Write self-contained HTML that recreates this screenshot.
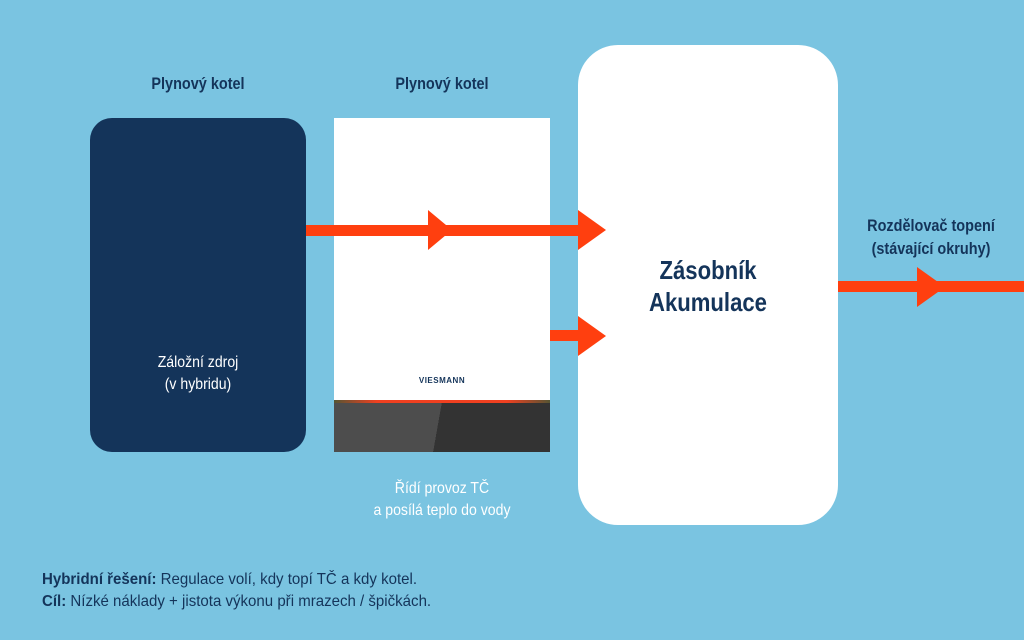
<!DOCTYPE html>
<html><head><meta charset="utf-8"><style>
body{margin:0;width:1024px;height:640px;background:#7ac4e1;position:relative;overflow:hidden;font-family:"Liberation Sans",sans-serif;color:#14345a}
.a{position:absolute}
.t{position:absolute;white-space:nowrap;transform-origin:center top}
</style></head><body>
<div class="t" style="left:98px;width:200px;text-align:center;top:74px;font-weight:bold;font-size:17px;transform:scaleX(0.85)">Plynový kotel</div>
<div class="t" style="left:342px;width:200px;text-align:center;top:74px;font-weight:bold;font-size:17px;transform:scaleX(0.85)">Plynový kotel</div>
<div class="a" style="left:90px;top:118px;width:216px;height:334px;background:#14345a;border-radius:22px"></div>
<div class="t" style="left:98px;width:200px;text-align:center;top:352px;font-size:16px;line-height:22px;color:#fff;transform:scaleX(0.88)">Záložní zdroj<br>(v hybridu)</div>
<div class="a" style="left:334px;top:118px;width:216px;height:334px;background:#fff"></div>
<div class="a" style="left:334px;top:402px;width:216px;height:50px;background:linear-gradient(100deg,#4d4d4d 0 48%,#333 48%)"></div>
<div class="a" style="left:334px;top:400px;width:216px;height:3px;background:linear-gradient(90deg,#553 0,#f04020 20%,#f04020 80%,#553 100%)"></div>
<div class="t" style="left:392px;width:100px;text-align:center;top:376px;font-size:8px;font-weight:bold;letter-spacing:0.5px">VIESMANN</div>
<div class="t" style="left:342px;width:200px;text-align:center;top:478px;font-size:16px;line-height:22px;color:#fff;transform:scaleX(0.88)">Řídí provoz TČ<br>a posílá teplo do vody</div>
<div class="a" style="left:578px;top:45px;width:260px;height:480px;background:#fff;border-radius:40px"></div>
<div class="t" style="left:608px;width:200px;text-align:center;top:254px;font-size:26px;line-height:32px;font-weight:bold;transform:scaleX(0.85)">Zásobník<br>Akumulace</div>
<div class="t" style="left:831px;width:200px;text-align:center;top:214px;font-size:17px;line-height:23px;font-weight:bold;transform:scaleX(0.85)">Rozdělovač topení<br>(stávající okruhy)</div>
<svg class="a" style="left:0;top:0" width="1024" height="640">
<g fill="#ff3f0f">
<rect x="306" y="225" width="272" height="11"/>
<polygon points="428,210 452,230 428,250"/>
<polygon points="578,210 606,230 578,250"/>
<rect x="550" y="330" width="30" height="11"/>
<polygon points="578,316 606,336 578,356"/>
<rect x="838" y="281" width="186" height="11"/>
<polygon points="917,267 945,287 917,307"/>
</g></svg>
<div class="t" style="left:42px;top:569px;font-size:16px;line-height:22px;transform-origin:left top;transform:scaleX(0.94)"><b>Hybridní řešení:</b> Regulace volí, kdy topí TČ a kdy kotel.<br><b>Cíl:</b> Nízké náklady + jistota výkonu při mrazech / špičkách.</div>
</body></html>
